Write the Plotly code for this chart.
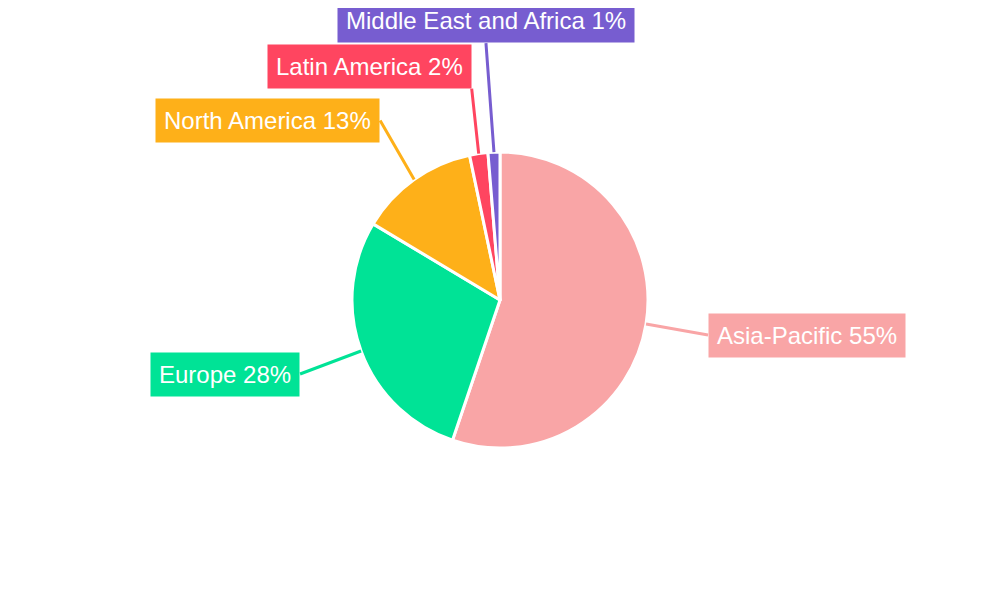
import math
import plotly.graph_objects as go

regions = ["Asia-Pacific", "Europe", "North America", "Latin America", "Middle East and Africa"]
shares = [55.2, 28.4, 13.1, 2.0, 1.3]
colors = ["#F9A5A6", "#00E396", "#FEB019", "#FF4560", "#775DD0"]

# label box placement relative to the slice edge (pixels), and box anchors
offsets = [(62, 11), (-61, 23), (-34, -59), (-7, -65), (-8, -109)]
anchors = [("left", "middle"), ("right", "middle"), ("right", "middle"),
           ("right", "bottom"), ("center", "bottom")]

W, H = 1000, 600
# the page body has an 8px margin, so the pie centre is set 8px up/left
cx, cy, R = 492, 292, 148

fig = go.Figure(
    go.Pie(
        labels=regions,
        values=shares,
        sort=False,
        direction="clockwise",
        rotation=0,
        marker=dict(colors=colors, line=dict(color="white", width=3)),
        textinfo="none",
        hoverinfo="label+percent",
        domain=dict(x=[(cx - R) / W, (cx + R) / W], y=[(H - cy - R) / H, (H - cy + R) / H]),
        showlegend=False,
    )
)

total = sum(shares)
start = 0.0
for name, val, col, (ax, ay), (xa, ya) in zip(regions, shares, colors, offsets, anchors):
    mid = (start + val / 2) / total * 2 * math.pi
    start += val
    px = cx + R * math.sin(mid)
    py = cy - R * math.cos(mid)
    fig.add_annotation(
        x=px / W, y=1 - py / H, xref="paper", yref="paper",
        ax=ax, ay=ay, axref="pixel", ayref="pixel",
        text=f"{name} {round(val / total * 100)}%",
        showarrow=True, arrowhead=0, arrowwidth=3, arrowcolor=col,
        xanchor=xa, yanchor=ya,
        bgcolor=col, borderpad=8,
        font=dict(family="Liberation Sans, Arial", size=24, color="white"),
    )

fig.update_layout(
    width=W, height=H,
    margin=dict(l=0, r=0, t=0, b=0),
    paper_bgcolor="white",
    plot_bgcolor="white",
)

fig.write_html("out.html")
